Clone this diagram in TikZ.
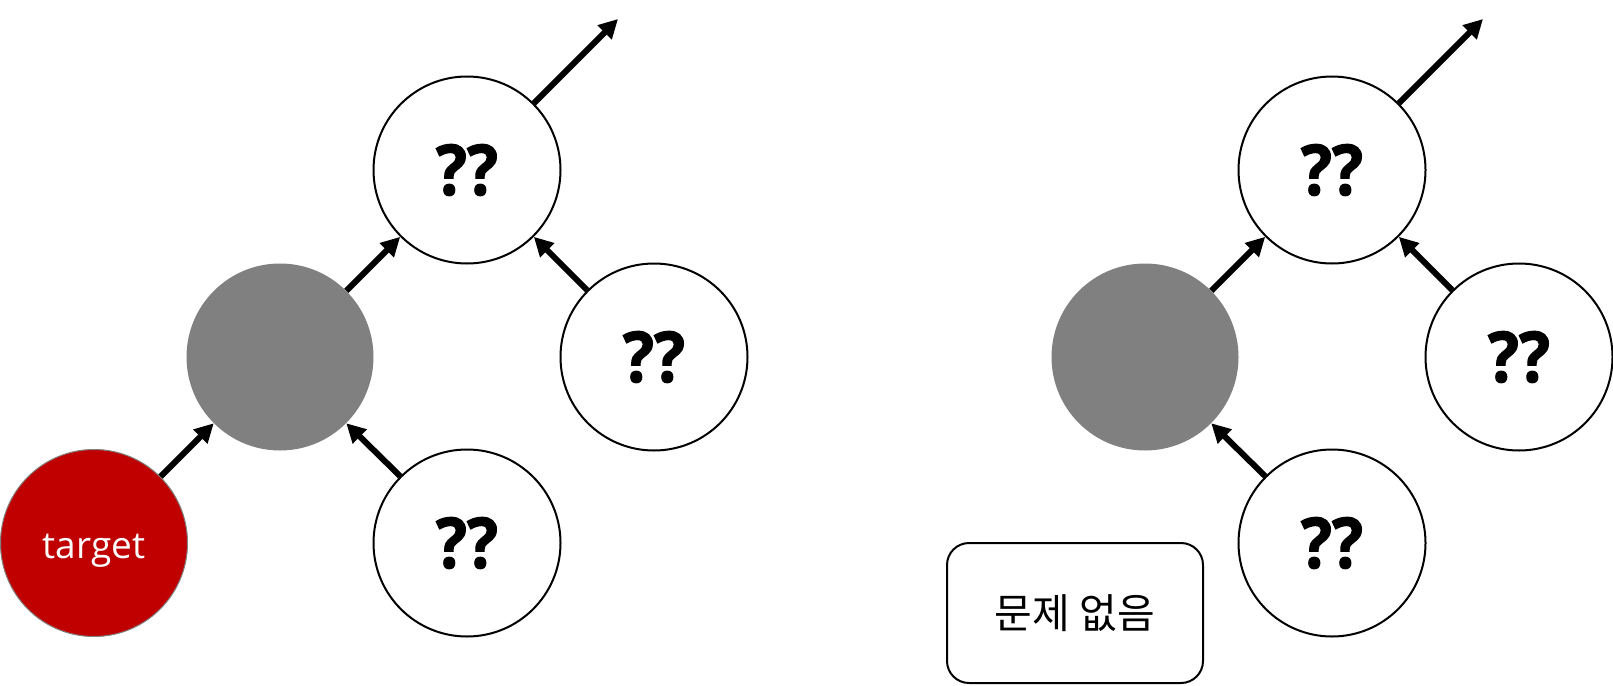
\documentclass[tikz,border=0pt]{standalone}
\usepackage{fontspec}
\setmainfont{Open Sans}
\newfontfamily\kr{Noto Sans CJK KR}
\newfontfamily\qf{Open Sans}[BoldFeatures={FakeBold=1.6}]
\usetikzlibrary{arrows.meta}
\definecolor{tred}{HTML}{C00000}
\definecolor{tgray}{HTML}{808080}
\tikzset{
  nd/.style={circle,inner sep=0pt,minimum size=187pt},
  wnode/.style={nd,draw=black,line width=2pt,fill=white,font=\qf\bfseries\fontsize{70}{70}\selectfont},
  gnode/.style={nd,fill=tgray},
  rnode/.style={nd,fill=tred,draw=tgray,line width=1pt,text=white,font=\fontsize{37}{37}\selectfont},
  arr/.style={line width=6pt,-{Triangle[length=19pt,width=19pt]}},
  okbox/.style={draw=black,line width=2pt,rounded corners=22pt,minimum width=256pt,minimum height=140pt,font=\kr\fontsize{41}{41}\selectfont}
}
\newcommand{\qq}{\scalebox{0.93}[1]{??}}
\begin{document}
\begin{tikzpicture}[x=1pt,y=-1pt]
\useasboundingbox (0,0) rectangle (1613,685);
% left
\node[wnode] (lt) at (467,170) {\qq};
\node[gnode] (lg) at (280,357) {};
\node[wnode] (lr) at (654,357) {\qq};
\node[wnode] (lb) at (467,543) {\qq};
\node[rnode] (tg) at (94,543) {\raisebox{-15pt}[0pt][0pt]{target}};
\coordinate (le) at (618,19);
\draw[arr] (tg.45) -- (lg.225);
\draw[arr] (lg.45) -- (lt.225);
\draw[arr] (lr.135) -- (lt.315);
\draw[arr] (lb.135) -- (lg.315);
\draw[arr] (lt.45) -- (le);
% right
\node[wnode] (rt) at (1332,170) {\qq};
\node[gnode] (rg) at (1145,357) {};
\node[wnode] (rr) at (1519,357) {\qq};
\node[wnode] (rb) at (1332,543) {\qq};
\coordinate (re) at (1483,19);
\draw[arr] (rg.45) -- (rt.225);
\draw[arr] (rr.135) -- (rt.315);
\draw[arr] (rb.135) -- (rg.315);
\draw[arr] (rt.45) -- (re);
\node[okbox] (ok) at (1075,613) {문제 없음};
\end{tikzpicture}
\end{document}
